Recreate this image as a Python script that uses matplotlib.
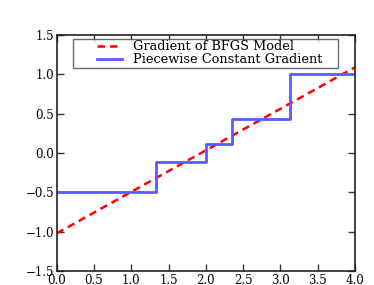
import numpy as np
import matplotlib.pyplot as plt
from matplotlib.path import Path

# linear model gradient
model_x = [0.0, 4.0]
model_y = [-1.02, 1.09]

# piecewise constant gradient (step edges and levels)
step_edges = [0.0, 1.33, 2.0, 2.35, 3.13, 4.0]
step_levels = [-0.5, -0.12, 0.12, 0.43, 1.0]

plt.rcParams['font.family'] = 'DejaVu Serif'
plt.rcParams['xtick.direction'] = 'in'
plt.rcParams['ytick.direction'] = 'in'


def legend_box(x0, y0, width, height, mutation_size):
    # old-style legend frame: extra room left and right of the entries
    l, r = x0 - 22, x0 + width + 14
    b, t = y0, y0 + height
    return Path([(l, b), (r, b), (r, t), (l, t), (l, b)], closed=True)


fig = plt.figure(figsize=(3.74, 2.85), dpi=100)
ax = fig.add_axes([0.152, 0.049, 0.797, 0.828])

ax.plot(model_x, model_y, color='red', lw=1.8, dashes=(3.0, 2.0), label='Gradient of BFGS Model')
sx = np.repeat(step_edges, 2)[1:-1]
sy = np.repeat(step_levels, 2)
ax.plot(sx, sy, '-', color='#5a5aff', lw=2, label='Piecewise Constant Gradient')

ax.set_xlim(0, 4)
ax.set_ylim(-1.5, 1.5)
ax.set_xticks(np.arange(0, 4.01, 0.5))
ax.set_yticks(np.arange(-1.5, 1.51, 0.5))
ax.tick_params(top=True, right=True, length=5, width=1, labelsize=8.5, pad=2, color='#333333')
for s in ax.spines.values():
    s.set_linewidth(1.2)
    s.set_color('#222222')

leg = ax.legend(loc='upper center', fontsize=9.3, fancybox=False, borderpad=0.1,
                labelspacing=0.0, handlelength=1.94, handletextpad=0.85,
                borderaxespad=0.3, bbox_to_anchor=(0.512, 1.0))
leg.get_frame().set_boxstyle(legend_box)
leg.get_frame().set_edgecolor('#444444')
leg.get_frame().set_linewidth(1)

fig.savefig('out.png', dpi=100)
